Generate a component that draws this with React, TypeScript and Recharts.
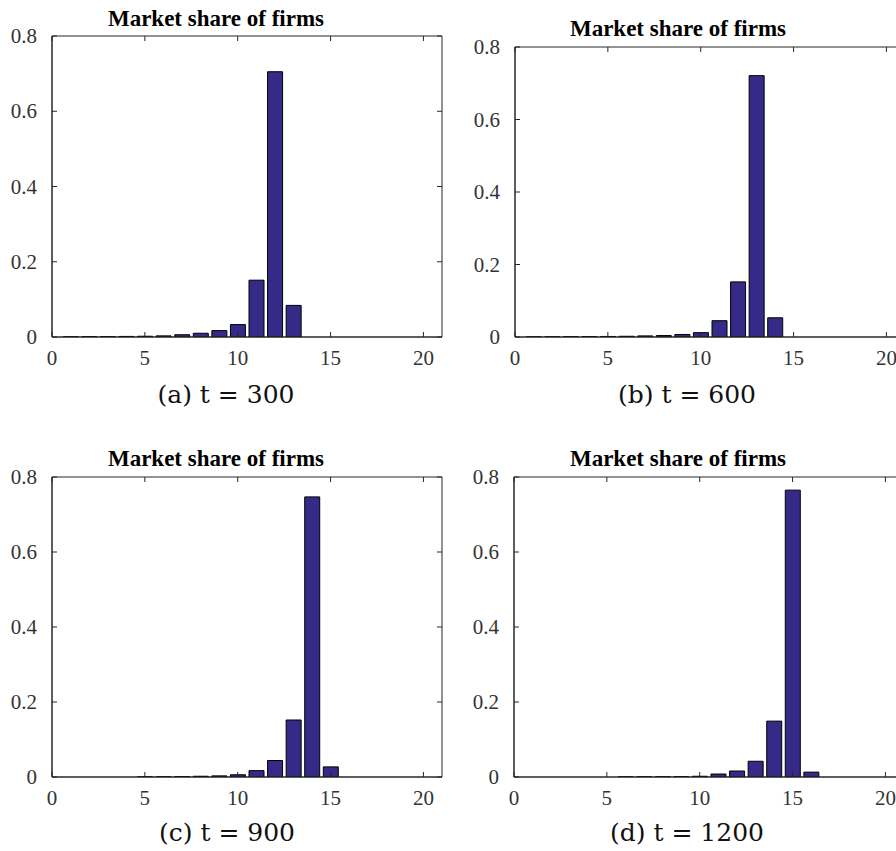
import { BarChart, Bar, XAxis, YAxis, ReferenceArea } from 'recharts'

const firms = [1, 2, 3, 4, 5, 6, 7, 8, 9, 10, 11, 12, 13, 14, 15, 16, 17, 18, 19, 20]
const shareT300 = [0.0005, 0.001, 0.001, 0.0015, 0.002, 0.003, 0.006, 0.01, 0.017, 0.033, 0.151, 0.705, 0.084, 0, 0, 0, 0, 0, 0, 0]
const shareT600 = [0.0003, 0.0005, 0.0008, 0.001, 0.0015, 0.002, 0.003, 0.004, 0.007, 0.012, 0.045, 0.152, 0.721, 0.053, 0, 0, 0, 0, 0, 0]
const shareT900 = [0, 0, 0, 0, 0.0003, 0.0005, 0.001, 0.002, 0.003, 0.006, 0.017, 0.044, 0.152, 0.747, 0.027, 0, 0, 0, 0, 0]
const shareT1200 = [0, 0, 0, 0, 0, 0.0003, 0.0005, 0.0007, 0.001, 0.002, 0.008, 0.016, 0.042, 0.149, 0.765, 0.013, 0, 0, 0, 0]

const xTicks = [0, 5, 10, 15, 20]
const yTicks = [0, 0.2, 0.4, 0.6, 0.8]
const panelTitle = 'Market share of firms'
const captions = ['(a) t = 300', '(b) t = 600', '(c) t = 900', '(d) t = 1200']

const BAR_FILL = '#352A87'
const AXIS = '#262626'
const SERIF = "'Liberation Serif', 'Times New Roman', Times, serif"
const CAPTION_FONT = "'DejaVu Serif', 'Liberation Serif', serif"
const PLOT_W = 390
const PAD_L = 60
const PAD_T = 20

const panels = [
  { share: shareT300, left: 52, top: 36, h: 301, titleX: 216, titleY: 26, capX: 226, capY: 403 },
  { share: shareT600, left: 515, top: 47, h: 290, titleX: 678, titleY: 36, capX: 687, capY: 403 },
  { share: shareT900, left: 52, top: 477, h: 300, titleX: 216, titleY: 466, capX: 227, capY: 841 },
  { share: shareT1200, left: 514, top: 477, h: 300, titleX: 678, titleY: 466, capX: 687, capY: 841 },
]

function Panel({ share, left, top, h }: { share: number[]; left: number; top: number; h: number }) {
  const data = firms.map((f, i) => ({ firm: f, share: share[i] }))
  const plotTop = PAD_T
  const plotBottom = PAD_T + h
  const plotLeft = PAD_L
  const plotRight = PAD_L + PLOT_W

  const XTick = (p: any) => (
    <g>
      <line x1={p.x} x2={p.x} y1={plotBottom} y2={plotBottom - 5} stroke={AXIS} />
      <line x1={p.x} x2={p.x} y1={plotTop} y2={plotTop + 5} stroke={AXIS} />
      <text x={p.x} y={plotBottom + 28} textAnchor="middle" style={{ fontFamily: SERIF, fontSize: 21 }} fill="#333">
        {p.payload.value}
      </text>
    </g>
  )

  const YTick = (p: any) => (
    <g>
      <line x1={plotLeft} x2={plotLeft + 5} y1={p.y} y2={p.y} stroke={AXIS} />
      <line x1={plotRight} x2={plotRight - 5} y1={p.y} y2={p.y} stroke={AXIS} />
      <text x={plotLeft - 15} y={p.y + 7} textAnchor="end" style={{ fontFamily: SERIF, fontSize: 21 }} fill="#333">
        {String(p.payload.value)}
      </text>
    </g>
  )

  return (
    <div style={{ position: 'absolute', left: left - PAD_L, top: top - PAD_T }}>
      <BarChart width={PAD_L + PLOT_W + 10} height={PAD_T + h + 40} data={data} margin={{ top: PAD_T, right: 10, bottom: 0, left: 0 }}>
        <XAxis dataKey="firm" type="number" domain={[0, 21]} ticks={xTicks} interval={0} tick={XTick} tickLine={false} axisLine={{ stroke: AXIS }} height={40} allowDataOverflow />
        <YAxis type="number" domain={[0, 0.8]} ticks={yTicks} interval={0} tick={YTick} tickLine={false} axisLine={{ stroke: AXIS }} width={PAD_L} allowDataOverflow />
        <ReferenceArea x1={0} x2={21} y1={0} y2={0.8} fill="none" stroke={AXIS} strokeWidth={1} fillOpacity={0} />
        <Bar dataKey="share" fill={BAR_FILL} stroke="#000" strokeWidth={1} barSize={15} isAnimationActive={false} />
      </BarChart>
    </div>
  )
}

export default function App() {
  return (
    <div style={{ position: 'absolute', left: 0, top: 0, width: 896, height: 851, overflow: 'hidden', background: '#fff' }}>
      {panels.map((p, i) => (
        <Panel key={i} share={p.share} left={p.left} top={p.top} h={p.h} />
      ))}
      <svg width={896} height={851} style={{ position: 'absolute', left: 0, top: 0, pointerEvents: 'none' }}>
        {panels.map((p, i) => (
          <g key={i}>
            <text x={p.titleX} y={p.titleY} textAnchor="middle" style={{ fontFamily: SERIF, fontWeight: 'bold', fontSize: 23 }} fill="#000">
              {panelTitle}
            </text>
            <text x={p.capX} y={p.capY} textAnchor="middle" style={{ fontFamily: CAPTION_FONT, fontSize: 25 }} fill="#111">
              {captions[i]}
            </text>
          </g>
        ))}
      </svg>
    </div>
  )
}
